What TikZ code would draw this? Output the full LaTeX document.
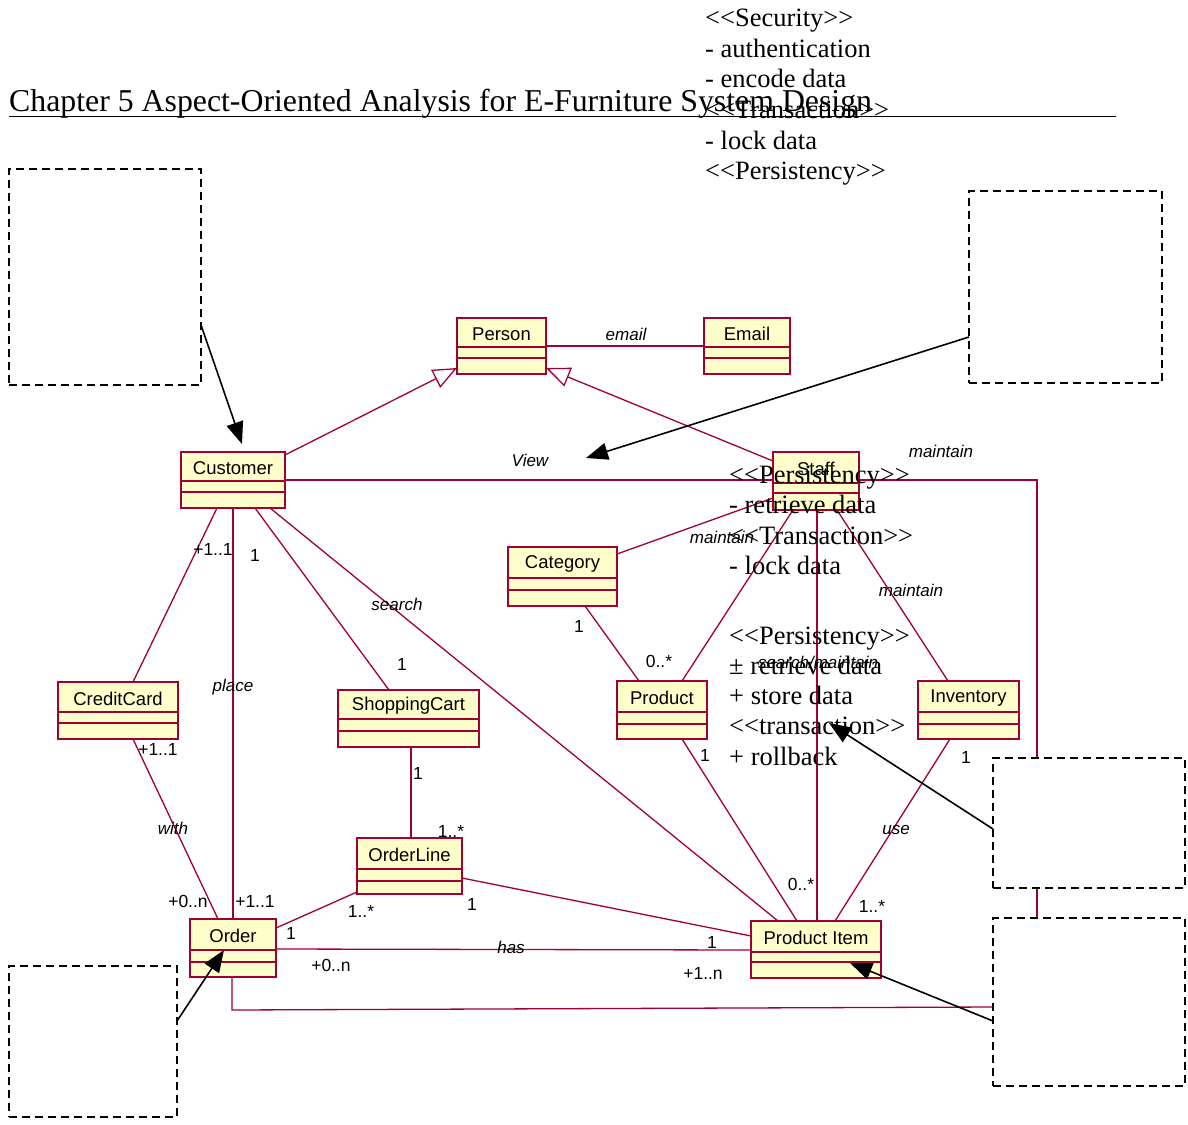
\documentclass[tikz,border=0pt]{standalone}
\usepackage{fontspec}
\newfontfamily\timesfont{Liberation Serif}
\newfontfamily\umlfont{Liberation Sans}
\usetikzlibrary{arrows.meta}
\definecolor{umlred}{RGB}{160,0,50}
\definecolor{umlfill}{RGB}{255,255,204}
\pgfdeclarelayer{background}
\pgfsetlayers{background,main}

% class box: name, left, top, right, bottom, first separator, second separator, label
\newcommand{\umlclass}[8]{%
  \node[classbox, minimum width={#4-#2}, minimum height={#5-#3}] (#1) at (#2,#3) {};
  \draw[classsep] (#2,#6) -- (#4,#6);
  \draw[classsep] (#2,#7) -- (#4,#7);
  \node[classname] (#1-name) at ({(#2+#4)/2},{(#3+#6)/2+1.5}) {#8};
}
% dashed aspect frame: name, left, top, right, bottom
\newcommand{\aspectframe}[5]{%
  \node[aspectbox, minimum width={#4-#2}, minimum height={#5-#3}] (#1) at (#2,#3) {};
}

\begin{document}
\begin{tikzpicture}[x=1pt,y=-1pt,
  assoc/.style={draw=umlred, line width=1.3pt},
  gen/.style={assoc, -{Triangle[open,length=24pt,width=20pt,fill=white]}},
  classbox/.style={draw=umlred, fill=umlfill, line width=2pt, inner sep=0pt, outer sep=0pt, anchor=north west},
  classsep/.style={draw=umlred, line width=1.5pt},
  classname/.style={font=\umlfont\fontsize{18.5}{20}\selectfont, inner sep=0pt},
  mult/.style={font=\umlfont\fontsize{17.5}{19}\selectfont, inner sep=0pt},
  role/.style={font=\umlfont\itshape\fontsize{17}{19}\selectfont, inner sep=0pt},
  aspectbox/.style={draw=black, dash pattern=on 8pt off 5pt, line width=1.6pt, fill=white, inner sep=0pt, outer sep=0pt, anchor=north west},
  aspectarrow/.style={draw=black, line width=1.6pt, -{Triangle[length=22pt,width=17pt]}},
  aspecttext/.style={font=\timesfont\fontsize{26.5}{30}\selectfont, inner sep=0pt, anchor=base west},
  titletext/.style={font=\timesfont\fontsize{31.8}{36}\selectfont, inner sep=0pt, anchor=base west}
]
\useasboundingbox (0,0) rectangle (1188,1124);

% page heading
\node[titletext] (title) at (9,111) {Chapter 5 Aspect-Oriented Analysis for E-Furniture System Design};
\draw[line width=1.2pt] (9,116.5) -- (1116,116.5);

% classes
\umlclass{person}{457}{318}{546}{374}{347}{358}{Person}
\umlclass{email}{704}{318}{790}{374}{347}{358}{Email}
\umlclass{customer}{181}{452}{285}{508}{481}{492}{Customer}
\umlclass{staff}{773}{452}{859}{510}{483}{493}{Staff}
\umlclass{category}{508}{547}{617}{606}{578}{590}{Category}
\umlclass{creditcard}{58}{682}{178}{739}{712}{723}{CreditCard}
\umlclass{shoppingcart}{338}{690}{479}{747}{719}{731}{ShoppingCart}
\umlclass{product}{617}{681}{707}{739}{712}{724}{Product}
\umlclass{inventory}{918}{681}{1019}{739}{712}{724}{Inventory}
\umlclass{orderline}{357}{838}{462}{894}{869}{881}{OrderLine}
\umlclass{order}{190}{919}{276}{977}{950}{962}{Order}
\umlclass{productitem}{751}{921}{881}{978}{952}{962}{Product Item}

% aspect frames
\aspectframe{aspectTL}{9}{169}{201}{385}
\aspectframe{aspectTR}{969}{191}{1162}{383}
\aspectframe{aspectR1}{993}{758}{1185}{888}
\aspectframe{aspectR2}{993}{918}{1185}{1086}
\aspectframe{aspectBL}{9}{966}{177}{1117}

% associations
\begin{pgfonlayer}{background}
\draw[assoc] (person.east) -- (email.west);
\draw[gen] ([yshift=-3pt]customer.north east) -- ([yshift=6pt]person.south west);
\draw[gen] ([yshift=-9pt]staff.north west) -- ([yshift=6pt]person.south east);
\draw[assoc] (customer.east) -| ([xshift=44pt]aspectR1.north west);
\draw[assoc] ([xshift=44pt]aspectR1.south west) -- ([xshift=44pt]aspectR2.north west);
\draw[assoc] ([yshift=-89pt]aspectR2.north west) -- ([xshift=42pt,yshift=-33pt]order.south west) -- ([xshift=42pt]order.south west);
\draw[assoc] ([xshift=36pt]customer.south west) -- ([xshift=75pt]creditcard.north west);
\draw[assoc] ([xshift=52pt]customer.south west) -- ([xshift=43pt]order.north west);
\draw[assoc] ([xshift=74pt]customer.south west) -- ([xshift=51pt]shoppingcart.north west);
\draw[assoc] ([xshift=89pt]customer.south west) -- ([xshift=27pt]productitem.north west);
\draw[assoc] ([yshift=-46pt]staff.north west) -- ([yshift=-7pt]category.north east);
\draw[assoc] ([xshift=20pt]staff.south west) -- ([xshift=65pt]product.north west);
\draw[assoc] ([xshift=44pt]staff.south west) -- ([xshift=66pt]productitem.north west);
\draw[assoc] ([xshift=64pt]staff.south west) -- ([xshift=30pt]inventory.north west);
\draw[assoc] ([xshift=77pt]category.south west) -- ([xshift=22pt]product.north west);
\draw[assoc] ([xshift=75pt]creditcard.south west) -- ([xshift=28pt]order.north west);
\draw[assoc] ([xshift=73pt]shoppingcart.south west) -- ([xshift=54pt]orderline.north west);
\draw[assoc] ([yshift=-9pt]order.north east) -- ([yshift=2pt]orderline.south west);
\draw[assoc] ([yshift=-40pt]orderline.north east) -- ([yshift=-15pt]productitem.north west);
\draw[assoc] ([yshift=-30pt]order.north east) -- ([yshift=-29pt]productitem.north west);
\draw[assoc] ([xshift=65pt]product.south west) -- ([xshift=46pt]productitem.north west);
\draw[assoc] ([xshift=32pt]inventory.south west) -- ([xshift=84pt]productitem.north west);
\end{pgfonlayer}

% role names
\node[role] (r-email) at (626,334) {email};
\node[role] (r-view) at (530,460) {View};
\node[role] (r-maint1) at (941,451) {maintain};
\node[role] (r-maint2) at (722,537) {maintain};
\node[role] (r-maint3) at (911,590) {maintain};
\node[role] (r-search) at (397,604) {search};
\node[role] (r-place) at (233,687) {place};
\node[role] (r-sm) at (818,662) {search/maintain};
\node[role] (r-with) at (173,828) {with};
\node[role] (r-use) at (896,830) {use};
\node[role] (r-has) at (511,947) {has};

% multiplicities
\node[mult] (m1) at (213,549) {+1..1};
\node[mult] (m2) at (255,555) {1};
\node[mult] (m3) at (402,664) {1};
\node[mult] (m4) at (579,626) {1};
\node[mult] (m5) at (659,661) {0..*};
\node[mult] (m6) at (158,749) {+1..1};
\node[mult] (m7) at (705,755) {1};
\node[mult] (m8) at (966,757) {1};
\node[mult] (m9) at (418,773) {1};
\node[mult] (m10) at (451,831) {1..*};
\node[mult] (m11) at (801,884) {0..*};
\node[mult] (m12) at (188,901) {+0..n};
\node[mult] (m13) at (255,901) {+1..1};
\node[mult] (m14) at (361,911) {1..*};
\node[mult] (m15) at (472,904) {1};
\node[mult] (m16) at (872,906) {1..*};
\node[mult] (m17) at (291,933) {1};
\node[mult] (m18) at (712,942) {1};
\node[mult] (m19) at (331,965) {+0..n};
\node[mult] (m20) at (703,973) {+1..n};

% aspect pointers
\coordinate (viewpt) at (586,458);
\coordinate (txpt) at (829,723);
\draw[aspectarrow] ([yshift=-156pt]aspectTL.north east) -- ([xshift=61pt,yshift=8pt]customer.north west);
\draw[aspectarrow] ([yshift=-146pt]aspectTR.north west) -- (viewpt);
\draw[aspectarrow] ([yshift=-71pt]aspectR1.north west) -- (txpt);
\draw[aspectarrow] ([yshift=-103pt]aspectR2.north west) -- ([xshift=99pt,yshift=-42pt]productitem.north west);
\draw[aspectarrow] ([yshift=-55pt]aspectBL.north east) -- ([xshift=34pt,yshift=-31pt]order.north west);

% aspect descriptions
\foreach \ln [count=\i] in {{<<Security>>},{- authentication},{- encode data},{<<Transaction>>},{- lock data},{<<Persistency>>}}
  \node[aspecttext] (secline\i) at (705,{27+30.5*(\i-1)}) {\ln};
\foreach \ln [count=\i] in {{<<Persistency>>},{- retrieve data},{<<Transaction>>},{- lock data}}
  \node[aspecttext] (staffline\i) at (729,{483+30.5*(\i-1)}) {\ln};
\foreach \ln [count=\i] in {{<<Persistency>>},{± retrieve data},{+ store data},{<<transaction>>},{+ rollback}}
  \node[aspecttext] (itemline\i) at (729,{644+30.3*(\i-1)}) {\ln};
\end{tikzpicture}
\end{document}
